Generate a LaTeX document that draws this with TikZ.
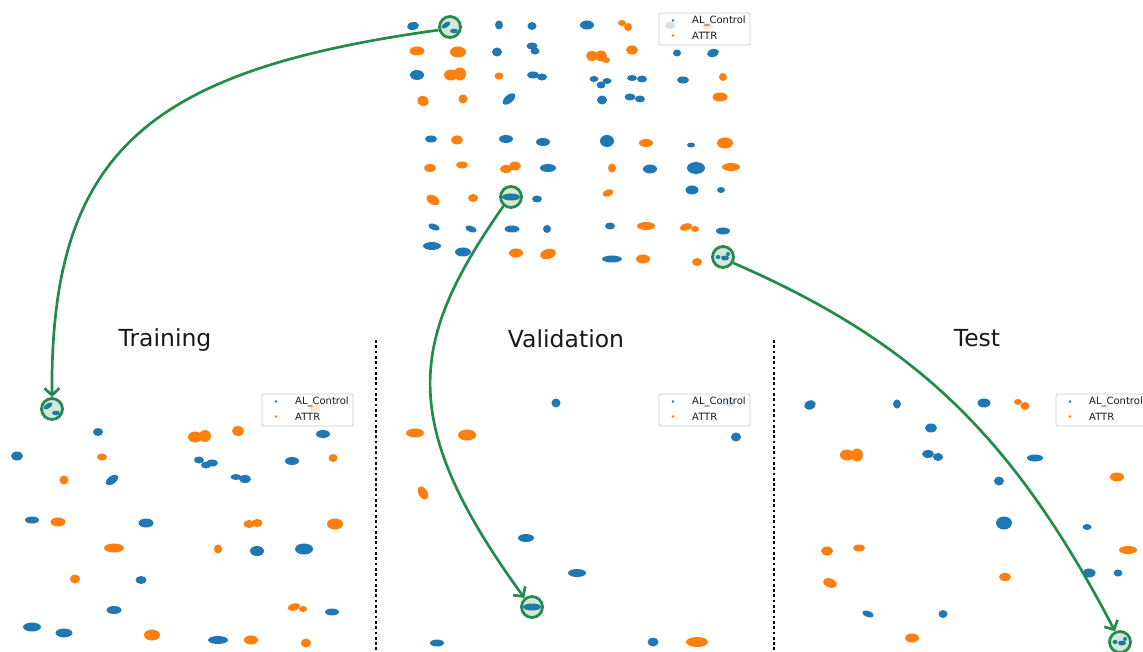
\documentclass[tikz,border=0pt]{standalone}
\usepackage{fontspec}
\setmainfont{DejaVu Sans}
\usetikzlibrary{arrows.meta}

\definecolor{tabblue}{HTML}{1F77B4}
\definecolor{taborange}{HTML}{FF7F0E}
\definecolor{hlgreen}{HTML}{238B4C}

% one cluster of the embedding: [angle]{x}{y}{x radius}{y radius}
\newcommand\pb[5][0]{\fill[blueblob,rotate around={#1:(#2,#3)}] (#2,#3) ellipse ({#4pt+1pt} and {#5pt+0.5pt});}
\newcommand\po[5][0]{\fill[orangeblob,rotate around={#1:(#2,#3)}] (#2,#3) ellipse ({#4pt+1pt} and {#5pt+0.5pt});}

% legend box: {name prefix}{left x}{top y}
\newcommand\scatterlegend[3]{%
  \draw[legendframe] (#2,#3) rectangle ++(91,32);
  \fill[tabblue] (#2+14,#3+7.5) circle (1.3pt);
  \fill[taborange] (#2+14,#3+22.5) circle (1.3pt);
  \node[legendtext] (#1a) at (#2+33,#3+7.5) {AL\_Control};
  \node[legendtext] (#1b) at (#2+33,#3+22.5) {ATTR};}

\begin{document}
\begin{tikzpicture}[x=1pt,y=-1pt,
  blueblob/.style={fill=tabblue},
  orangeblob/.style={fill=taborange},
  legendframe/.style={draw=black!18, line width=0.9pt, fill=white, fill opacity=0.8, rounded corners=2pt},
  legendtext/.style={anchor=west, inner sep=0pt, font=\fontsize{10pt}{12pt}\selectfont, text=black!90},
  hl/.style={circle, draw=hlgreen, line width=2.8pt, fill=hlgreen, fill opacity=0.2, draw opacity=1, minimum size=21pt, inner sep=0pt},
  link/.style={draw=hlgreen, line width=2.7pt, -{Straight Barb[length=7pt,width=15pt]}},
  separator/.style={draw=black, line width=2.7pt, dash pattern=on 2.7pt off 2.6pt},
  paneltitle/.style={anchor=base, inner sep=0pt, font=\fontsize{23.5pt}{28pt}\selectfont, text=black!90}]

\fill[white] (0,0) rectangle (1143,652);
\clip (0,0) rectangle (1143,652);

% ---------------- full embedding (top) ----------------
\pb[10]{413}{26}{5}{3.5}
\pb[35]{446}{25}{4}{2}\pb{454}{31}{3}{1.8}
\pb{499}{25}{3}{4}
\pb{532}{26}{3.5}{3.5}
\pb{587}{25}{6}{4}
\po{622}{23}{3}{2.5}\po{628}{27}{3}{3.5}
\po{670}{25}{4}{3}
\pb{670}{26}{4}{2.5}
\po{707}{26}{4}{3}

\po{417}{51}{6.5}{4}
\po{458}{52}{7}{5}
\pb{497}{52}{4}{4}
\pb{532}{46}{4.5}{3}\pb{535}{51}{3.5}{3}
\po{592}{56}{5}{4.5}\po{601}{56}{5}{5}\po{606}{60}{3}{2.5}
\po{632}{50}{5}{4}
\pb{677}{53}{3}{3}
\pb[15]{713}{53}{5}{3.5}

\pb{417}{75}{6}{4.5}
\po{451}{75}{6}{5}\po{460}{74}{5}{6}
\po{499}{76}{3.5}{3}
\pb{533}{75}{5}{3}\pb{542}{77}{4}{3}
\pb{594}{79}{3.5}{2.5}\pb{601}{85}{3.5}{3}\pb{607}{81}{3.5}{2.5}
\pb{632}{78}{4}{2.5}\pb{642}{79}{4}{3}
\pb{683}{80}{5}{3}
\po{723}{77}{3}{3.5}

\po[-30]{423}{101}{5}{4.5}
\po{463}{99}{3.5}{4}
\pb[40]{509}{99}{6.5}{3.5}
\pb{602}{100}{4}{4}
\pb{630}{97}{4.5}{3}\pb{640}{99}{4}{3}
\po{720}{97}{6.5}{4}

\pb{431}{139}{5}{3}
\po{457}{140}{5}{4}
\pb{506}{139}{6}{3.5}
\pb{543}{142}{6}{3.5}
\pb{607}{141}{6}{5.5}
\po{646}{143}{6}{3.5}
\pb{691}{145}{3}{2}
\po{725}{143}{7}{5}

\po{430}{168}{5}{3.5}
\po{462}{165}{5}{3}
\po{506}{169}{5}{3.5}\po{515}{166}{5}{4}
\pb{548}{168}{7}{3.5}
\po{612}{168}{3}{4}
\pb{650}{169}{6}{4}
\pb{696}{168}{8}{5.5}
\po{731}{167}{8}{3.5}

\po[-30]{433}{200}{6}{4}
\po{473}{198}{4}{3.5}
\pb{511}{197}{8}{3}
\pb{537}{199}{4}{3}
\po[20]{608}{193}{4.5}{3}
\pb{692}{190}{5.5}{4}
\pb{721}{190}{3}{2.5}

\pb[-20]{434}{227}{5}{2.5}
\pb[-20]{471}{229}{5}{2.5}
\pb{512}{229}{6.5}{3}
\pb{547}{229}{3}{3.5}
\pb{610}{226}{4}{3}
\po{646}{226}{8}{3.5}
\po[15]{686}{227}{5.5}{3}\po{695}{229}{3}{2.5}
\pb{723}{231}{6}{3}

\pb{432}{246}{8}{3.5}
\pb{463}{252}{7}{4}
\po{516}{253}{6}{4}
\po[15]{548}{254}{7}{4.5}
\pb{612}{259}{9}{3}
\po{643}{259}{6}{4}
\po{697}{262}{4}{3.5}
\pb{718}{257}{1.5}{1.5}\pb{725}{258}{3}{2}\pb{728}{254}{1}{1.5}

% ---------------- training split ----------------
\pb[35]{48}{406}{4}{2}\pb{56}{413}{3}{1.8}
\pb{98}{432}{4}{3.5}
\po{195}{437}{6}{5}\po{205}{436}{5}{5.5}
\po{238}{431}{5}{4.5}
\po{315}{408}{5}{3}
\pb{323}{434}{6}{3.5}
\pb{17}{456}{5}{4}
\po{102}{457}{4}{3}
\pb{199}{460}{4}{3}\pb{206}{465}{4}{3}\pb{212}{463}{5}{3}
\pb{292}{461}{6}{3.5}
\po{333}{458}{3.5}{3.5}
\po{64}{480}{3.5}{4}
\pb[35]{112}{480}{6}{3.5}
\pb{236}{477}{4.5}{2.5}\pb{245}{479}{5}{3.5}

\pb{32}{520}{6}{3}
\po{58}{522}{6.5}{4}
\pb{146}{523}{6.5}{4}
\po{249}{524}{4.5}{3.5}\po{257}{523}{4.5}{3.5}
\po{335}{524}{7}{5}
\po{114}{548}{9}{4}
\po{218}{549}{3}{4}
\pb{257}{551}{6}{4.5}
\pb{304}{549}{8}{5}
\po{75}{579}{4}{4}
\pb{141}{580}{4.5}{3.5}
\pb{114}{610}{6.5}{3.5}
\po[15]{294}{607}{5.5}{3}\po{303}{609}{3}{2.5}
\pb{332}{612}{6}{3}
\pb{32}{627}{8}{4}
\pb{64}{633}{7.5}{4}
\po{152}{635}{7}{5}
\pb{218}{640}{9}{3.5}
\po{251}{640}{6}{4}
\po{306}{643}{4}{4}

% ---------------- validation split ----------------
\pb{556}{403}{3.5}{4}
\pb{730}{403}{4}{3}
\po{415}{433}{8}{4}
\po{467}{435}{8}{5}
\pb{736}{437}{4}{4}
\po[-60]{423}{493}{6}{4}
\pb{526}{538}{7}{3.5}
\pb{577}{573}{8}{3.5}
\pb{532}{607}{8}{3}
\pb{437}{643}{6}{3}
\pb{653}{642}{4.5}{4}
\po{697}{642}{10}{4.5}

% ---------------- test split ----------------
\pb[20]{810}{405}{5}{4}
\pb{897}{404}{3}{4}
\pb{984}{403}{5.5}{4}
\po{1018}{402}{3}{2.5}\po{1025}{406}{3.5}{3.5}
\pb{931}{428}{5}{4}
\po{847}{455}{6}{5}\po{857}{455}{5}{6}
\pb{928}{454}{5}{3.5}\pb{938}{457}{4}{3.5}
\pb{1035}{458}{7}{3}
\po{1117}{477}{6}{4}
\pb{999}{481}{4}{4}
\pb{1004}{523}{7}{6}
\pb{1087}{527}{3.5}{2.5}
\po{827}{551}{5}{4}
\po{859}{548}{5}{3}
\po{1128}{550}{8}{3.5}
\po{1005}{577}{5}{3.5}
\pb{1089}{573}{5.5}{4}
\pb{1118}{573}{3.5}{3}
\po[-20]{830}{583}{6}{4}
\pb[-20]{868}{614}{5}{2.5}
\pb{943}{614}{3.5}{3.5}
\po{912}{638}{6}{4}
\pb{1115}{642}{1.5}{1.5}\pb{1122}{643}{3}{2}\pb{1125}{639}{1}{1.5}

% ---------------- legends ----------------
\scatterlegend{legtop}{659}{13}
\scatterlegend{legtrain}{262}{394}
\scatterlegend{legval}{659}{394}
\scatterlegend{legtest}{1056}{394}

% ---------------- highlighted clusters ----------------
\node[hl] (srcA) at (450,27) {};
\node[hl] (dstA) at (52,409) {};
\node[hl] (srcB) at (511,197) {};
\node[hl] (dstB) at (532,607) {};
\node[hl] (srcC) at (723,257) {};
\node[hl] (dstC) at (1120,642) {};

\draw[link] (srcA.195) .. controls (150,70) and (50,150) .. (dstA.north);
\draw[link] (srcB.230) .. controls (410,340) and (395,420) .. (dstB.130);
\draw[link] (srcC.-30) .. controls (910,340) and (1010,430) .. (dstC.115);

% ---------------- panel separators and titles ----------------
\coordinate (sepAtop) at (376,340);
\coordinate (sepAbot) at (376,652);
\coordinate (sepBtop) at (774,340);
\coordinate (sepBbot) at (774,652);
\draw[separator] (sepAtop) -- (sepAbot);
\draw[separator] (sepBtop) -- (sepBbot);

\node[paneltitle] (ttrain) at (165,346) {Training};
\node[paneltitle] (tval) at (566,347) {Validation};
\node[paneltitle] (ttest) at (977,346) {Test};
\end{tikzpicture}
\end{document}
